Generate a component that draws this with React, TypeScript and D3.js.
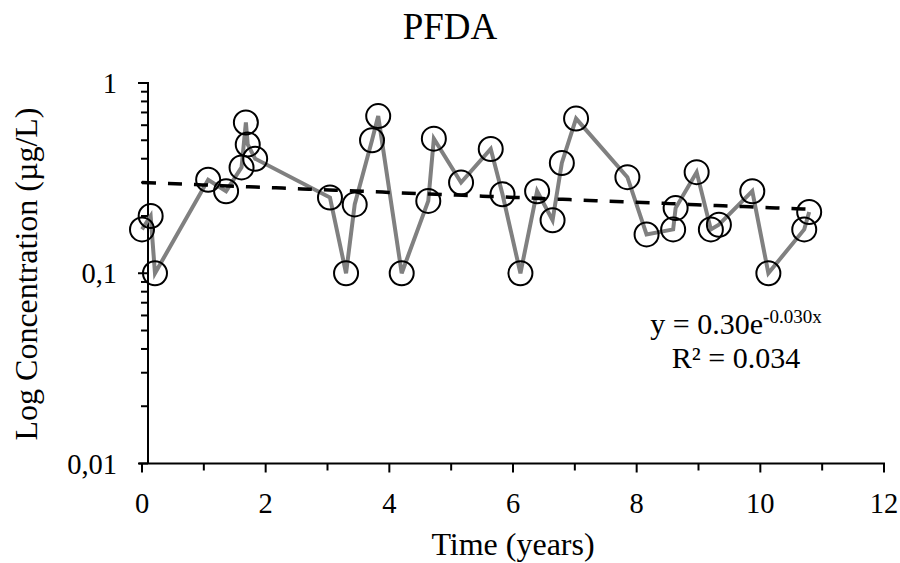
import React from "react";
import * as d3 from "d3";

const times = [0, 0.14, 0.21, 1.07, 1.36, 1.61, 1.68, 1.71, 1.83, 3.04, 3.3, 3.44, 3.72, 3.82, 4.2, 4.63, 4.72, 5.16, 5.64, 5.83, 6.12, 6.39, 6.64, 6.79, 7.02, 7.85, 8.16, 8.59, 8.63, 8.97, 9.2, 9.33, 9.87, 10.13, 10.71, 10.79];
const values = [0.17, 0.2, 0.1, 0.31, 0.27, 0.36, 0.62, 0.475, 0.4, 0.25, 0.1, 0.23, 0.5, 0.67, 0.1, 0.24, 0.51, 0.3, 0.45, 0.26, 0.1, 0.27, 0.19, 0.38, 0.65, 0.32, 0.16, 0.17, 0.22, 0.34, 0.17, 0.18, 0.27, 0.1, 0.17, 0.21];
const xTicks = [0, 2, 4, 6, 8, 10, 12];
const xMinorTicks = [1, 3, 5, 7, 9, 11];
const yTicks = [0.01, 0.1, 1];
const yTickLabels = ["0,01", "0,1", "1"];
const fitA = 0.3;
const fitB = -0.03;
const fitRange = [0, 10.8];

const FONT = "'Liberation Serif', 'Times New Roman', serif";

export default function App() {
  const W = 900, H = 563;
  const x = d3.scaleLinear().domain([0, 12]).range([142, 884]);
  const y = d3.scaleLog().domain([0.01, 1]).range([463.5, 83]);
  const yAxisX = 148;

  const data = times.map((t, i) => ({ t, v: values[i] }));
  const line = d3.line<{ t: number; v: number }>().x(d => x(d.t)).y(d => y(d.v));

  const fitPts = d3.range(0, 101).map(i => {
    const t = fitRange[0] + (fitRange[1] - fitRange[0]) * i / 100;
    return { t, v: fitA * Math.exp(fitB * t) };
  });

  const yMinor: number[] = [];
  for (let e = -2; e < 0; e++) {
    for (let k = 2; k <= 9; k++) yMinor.push(k * Math.pow(10, e));
  }

  return (
    <svg width={W} height={H} style={{ position: "absolute", left: 0, top: 0, background: "#fff" }}>
      <rect x={0} y={0} width={W} height={H} fill="#fff" />
      <text x={450} y={39} textAnchor="middle" fontFamily={FONT} fontSize={37}>PFDA</text>

      {/* y axis */}
      <line x1={yAxisX} x2={yAxisX} y1={y(1) - 1} y2={y(0.01)} stroke="#000" strokeWidth={2} />
      {yTicks.map(v => (
        <line key={"ym" + v} x1={yAxisX - 10} x2={yAxisX} y1={y(v)} y2={y(v)} stroke="#000" strokeWidth={2} />
      ))}
      {yMinor.map(v => (
        <line key={"yn" + v} x1={yAxisX - 7} x2={yAxisX} y1={y(v)} y2={y(v)} stroke="#000" strokeWidth={2} />
      ))}
      {yTicks.map((v, i) => (
        <text key={"yl" + v} x={117} y={y(v) + 10} textAnchor="end" fontFamily={FONT} fontSize={28.5}>{yTickLabels[i]}</text>
      ))}

      {/* x axis */}
      <line x1={x(0) - 3} x2={x(12) + 1} y1={y(0.01)} y2={y(0.01)} stroke="#000" strokeWidth={2} />
      {xTicks.map(t => (
        <line key={"xm" + t} x1={x(t)} x2={x(t)} y1={y(0.01)} y2={y(0.01) + 9} stroke="#000" strokeWidth={2} />
      ))}
      {xMinorTicks.map(t => (
        <line key={"xn" + t} x1={x(t)} x2={x(t)} y1={y(0.01)} y2={y(0.01) + 7} stroke="#000" strokeWidth={2} />
      ))}
      {xTicks.map(t => (
        <text key={"xl" + t} x={x(t)} y={513} textAnchor="middle" fontFamily={FONT} fontSize={28.5}>{t}</text>
      ))}

      <text x={513} y={555} textAnchor="middle" fontFamily={FONT} fontSize={32}>Time (years)</text>
      <text transform={`translate(37,274) rotate(-90)`} textAnchor="middle" fontFamily={FONT} fontSize={32}>Log Concentration (µg/L)</text>

      {/* data line */}
      <path d={line(data) || ""} fill="none" stroke="#808080" strokeWidth={4} strokeLinejoin="miter" />

      {/* trend line */}
      <path d={line(fitPts) || ""} fill="none" stroke="#000" strokeWidth={3.5} strokeDasharray="14 12" />

      {/* markers */}
      {data.map((d, i) => (
        <circle key={"c" + i} cx={x(d.t)} cy={y(d.v)} r={12} fill="none" stroke="#000" strokeWidth={2} />
      ))}

      {/* equation */}
      <text x={736} y={334} textAnchor="middle" fontFamily={FONT} fontSize={30}>
        y = 0.30e<tspan fontSize={19} dy={-11}>-0.030x</tspan>
      </text>
      <text x={736} y={368} textAnchor="middle" fontFamily={FONT} fontSize={30}>R² = 0.034</text>
    </svg>
  );
}
